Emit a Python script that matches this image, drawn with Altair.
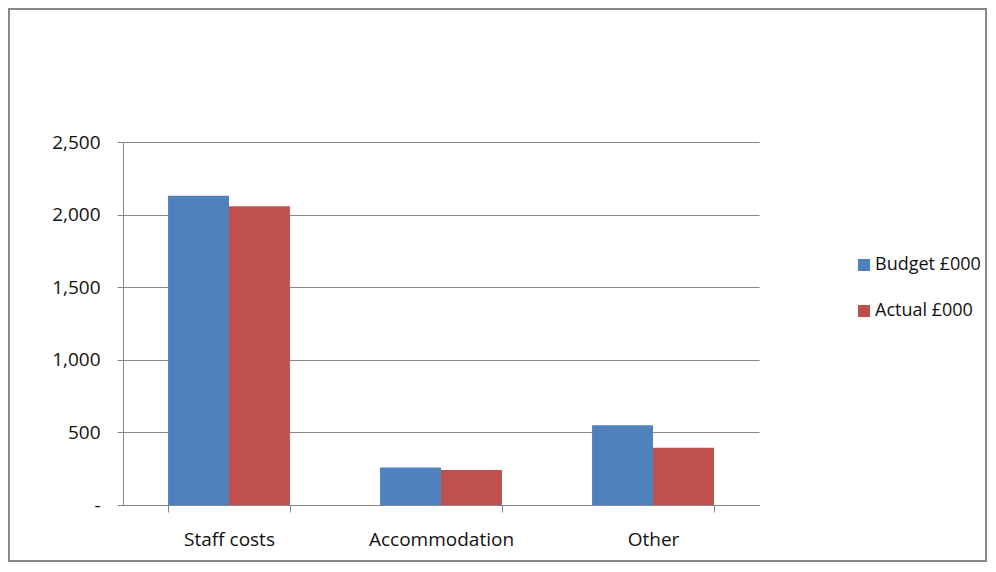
import altair as alt
import pandas as pd

categories = ["Staff costs", "Accommodation", "Other"]
series = ["Budget £000", "Actual £000"]
budget = [2130, 259, 550]
actual = [2057, 241, 394]
colors = ["#4F81BD", "#C0504D"]

rows = []
for i, c in enumerate(categories):
    rows.append({"category": c, "series": series[0], "value": budget[i]})
    rows.append({"category": c, "series": series[1], "value": actual[i]})
df = pd.DataFrame(rows)

FONT = "Open Sans"
FS = 19
W, H = 636, 363
PL, PT, PR, PB = 115, 134, 228, 57

bars = alt.Chart(df).mark_bar().encode(
    x=alt.X("category:N", sort=categories, title=None,
            scale=alt.Scale(paddingInner=0.425, paddingOuter=0.2125),
            axis=alt.Axis(labelAngle=0, tickBand="extent", tickSize=7,
                          labelPadding=18, domainColor="#868686",
                          tickColor="#868686", labelFontSize=FS,
                          labelColor="#111111", labelFont=FONT)),
    xOffset=alt.XOffset("series:N", sort=series),
    y=alt.Y("value:Q", title=None,
            scale=alt.Scale(domain=[0, 2500], nice=False),
            axis=alt.Axis(values=[0, 500, 1000, 1500, 2000, 2500],
                          labelExpr="datum.value == 0 ? '-' : format(datum.value, ',')",
                          tickSize=6, labelPadding=17, gridColor="#868686",
                          domainColor="#868686", tickColor="#868686",
                          labelFontSize=FS, labelColor="#111111",
                          labelFont=FONT)),
    color=alt.Color("series:N", sort=series,
                    scale=alt.Scale(domain=series, range=colors),
                    legend=alt.Legend(title=None, orient="none",
                                      legendX=732, legendY=114,
                                      symbolType="square", symbolSize=144,
                                      symbolStrokeWidth=0,
                                      labelFontSize=FS - 1, labelFont=FONT,
                                      labelColor="#111111",
                                      rowPadding=28, labelOffset=2)),
)

frame = alt.Chart(alt.Data(values=[{}])).mark_rect(
    fill=None, stroke="#888888", strokeWidth=2
).encode(
    x=alt.value(-PL + 1), x2=alt.value(W + PR - 1),
    y=alt.value(-PT + 1), y2=alt.value(H + PB - 1),
)

chart = alt.layer(bars, frame).properties(
    width=W, height=H,
    autosize=alt.AutoSizeParams(type="none"),
    padding={"left": PL, "top": PT, "right": PR, "bottom": PB},
    background="white",
).configure_view(stroke=None)

chart.save("out.html", embed_options={"renderer": "svg", "actions": False})
